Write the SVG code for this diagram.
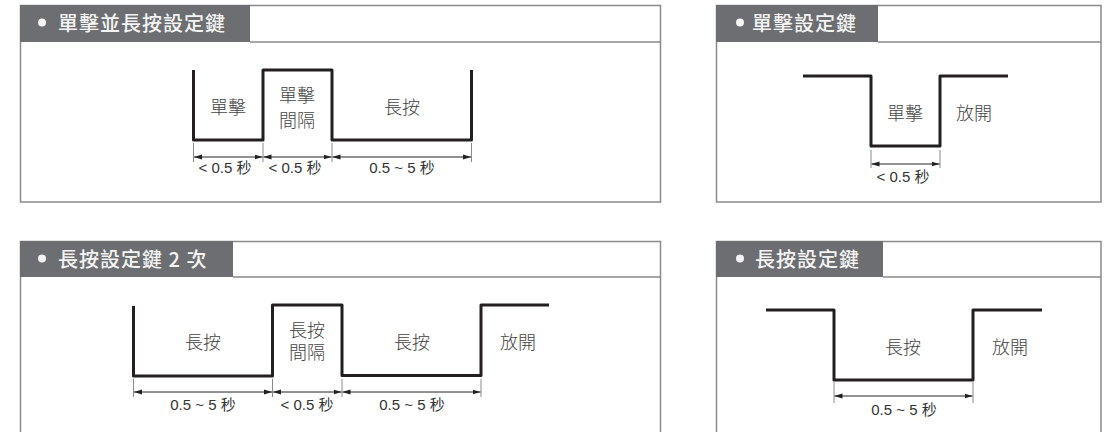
<svg xmlns="http://www.w3.org/2000/svg" width="1113" height="432" viewBox="0 0 1113 432">
<defs>
<marker id="arr" markerUnits="userSpaceOnUse" markerWidth="8" markerHeight="6" refX="8" refY="3" orient="auto-start-reverse">
<path d="M0,0.5 L8,3 L0,5.5 z" fill="#222"/>
</marker>
<style>
.panel{fill:#fff;stroke:#8a8a8a;stroke-width:1.5}
.hdr{fill:#6d6e71}
.hline{stroke:#8a8a8a;stroke-width:1.5}
.htxt{font-family:"Noto Sans CJK TC","Noto Sans CJK SC",sans-serif;font-size:20px;font-weight:500;fill:#f4f4f4;letter-spacing:1px}
.dot{fill:#f4f4f4}
.wave{fill:none;stroke:#231f20;stroke-width:3;stroke-linejoin:round}
.lbl{font-family:"Liberation Sans","Noto Sans CJK TC",sans-serif;font-size:18px;font-weight:300;fill:#444;text-anchor:middle}
.dim{font-family:"Liberation Sans","Noto Sans CJK TC",sans-serif;font-size:15px;fill:#333;text-anchor:middle}
.tick{stroke:#8a8a8a;stroke-width:1}
.dl{stroke:#222;stroke-width:1;marker-start:url(#arr);marker-end:url(#arr)}
</style>
</defs>
<rect width="1113" height="432" fill="#fff"/>

<g id="panel-click-hold">
<rect class="panel" x="20.5" y="5.5" width="640" height="196.5"/>
<rect class="hdr" x="20" y="5" width="230" height="37"/>
<line class="hline" x1="250" y1="42" x2="660.5" y2="42"/>
<circle class="dot" cx="42" cy="22.5" r="4"/>
<text class="htxt" x="58" y="31">單擊並長按設定鍵</text>
<path class="wave" d="M193.5,70 V140 H263 V70 H332 V140 H471.5 V70"/>
<text class="lbl" x="228" y="114">單擊</text>
<text class="lbl" x="297" y="102">單擊</text>
<text class="lbl" x="297" y="127">間隔</text>
<text class="lbl" x="402" y="114">長按</text>
<g id="dims-1">
<line class="tick" x1="193.5" y1="143" x2="193.5" y2="162"/>
<line class="tick" x1="263" y1="143" x2="263" y2="162"/>
<line class="tick" x1="332" y1="143" x2="332" y2="162"/>
<line class="tick" x1="471.5" y1="143" x2="471.5" y2="162"/>
<line class="dl" x1="194" y1="157" x2="262.5" y2="157"/>
<line class="dl" x1="263.5" y1="157" x2="331.5" y2="157"/>
<line class="dl" x1="332.5" y1="157" x2="471" y2="157"/>
<text class="dim" x="225" y="173">&lt; 0.5 秒</text>
<text class="dim" x="295" y="173">&lt; 0.5 秒</text>
<text class="dim" x="402" y="173">0.5 ~ 5 秒</text>
</g>
</g>

<g id="panel-click">
<rect class="panel" x="716.5" y="5.5" width="384.5" height="196.5"/>
<rect class="hdr" x="716" y="5" width="162" height="37"/>
<line class="hline" x1="878" y1="42" x2="1101" y2="42"/>
<circle class="dot" cx="740" cy="22.5" r="4"/>
<text class="htxt" x="752" y="31">單擊設定鍵</text>
<path class="wave" d="M803,76 H871 V146 H940 V76 H1008"/>
<text class="lbl" x="905" y="120">單擊</text>
<text class="lbl" x="974" y="120">放開</text>
<g id="dims-2">
<line class="tick" x1="871" y1="150" x2="871" y2="168"/>
<line class="tick" x1="940" y1="150" x2="940" y2="168"/>
<line class="dl" x1="871.5" y1="164" x2="939.5" y2="164"/>
<text class="dim" x="903" y="182">&lt; 0.5 秒</text>
</g>
</g>

<g id="panel-hold-twice">
<rect class="panel" x="20.5" y="241.5" width="640" height="200"/>
<rect class="hdr" x="20" y="241" width="213" height="36"/>
<line class="hline" x1="233" y1="277" x2="660.5" y2="277"/>
<circle class="dot" cx="42" cy="258.5" r="4"/>
<text class="htxt" x="58" y="267">長按設定鍵 2 次</text>
<path class="wave" d="M133.5,306 V376 H272.5 V305 H342 V375.5 H481 V305 H549"/>
<text class="lbl" x="203" y="349">長按</text>
<text class="lbl" x="307" y="337">長按</text>
<text class="lbl" x="307" y="359">間隔</text>
<text class="lbl" x="412" y="349">長按</text>
<text class="lbl" x="518" y="349">放開</text>
<g id="dims-3">
<line class="tick" x1="133.5" y1="379" x2="133.5" y2="397"/>
<line class="tick" x1="272.5" y1="379" x2="272.5" y2="397"/>
<line class="tick" x1="342" y1="379" x2="342" y2="397"/>
<line class="tick" x1="481" y1="379" x2="481" y2="397"/>
<line class="dl" x1="134" y1="392" x2="272" y2="392"/>
<line class="dl" x1="273" y1="392" x2="341.5" y2="392"/>
<line class="dl" x1="342.5" y1="392" x2="480.5" y2="392"/>
<text class="dim" x="203" y="410">0.5 ~ 5 秒</text>
<text class="dim" x="307" y="410">&lt; 0.5 秒</text>
<text class="dim" x="412" y="410">0.5 ~ 5 秒</text>
</g>
</g>

<g id="panel-hold">
<rect class="panel" x="716.5" y="241.5" width="384.5" height="200"/>
<rect class="hdr" x="716" y="241" width="167" height="36"/>
<line class="hline" x1="883" y1="277" x2="1101" y2="277"/>
<circle class="dot" cx="740" cy="258.5" r="4"/>
<text class="htxt" x="755" y="267">長按設定鍵</text>
<path class="wave" d="M766,310 H834 V380 H973 V310 H1042"/>
<text class="lbl" x="903" y="354">長按</text>
<text class="lbl" x="1010" y="354">放開</text>
<g id="dims-4">
<line class="tick" x1="834" y1="382" x2="834" y2="403"/>
<line class="tick" x1="973" y1="382" x2="973" y2="403"/>
<line class="dl" x1="834.5" y1="396" x2="972.5" y2="396"/>
<text class="dim" x="904" y="415">0.5 ~ 5 秒</text>
</g>
</g>
</svg>
